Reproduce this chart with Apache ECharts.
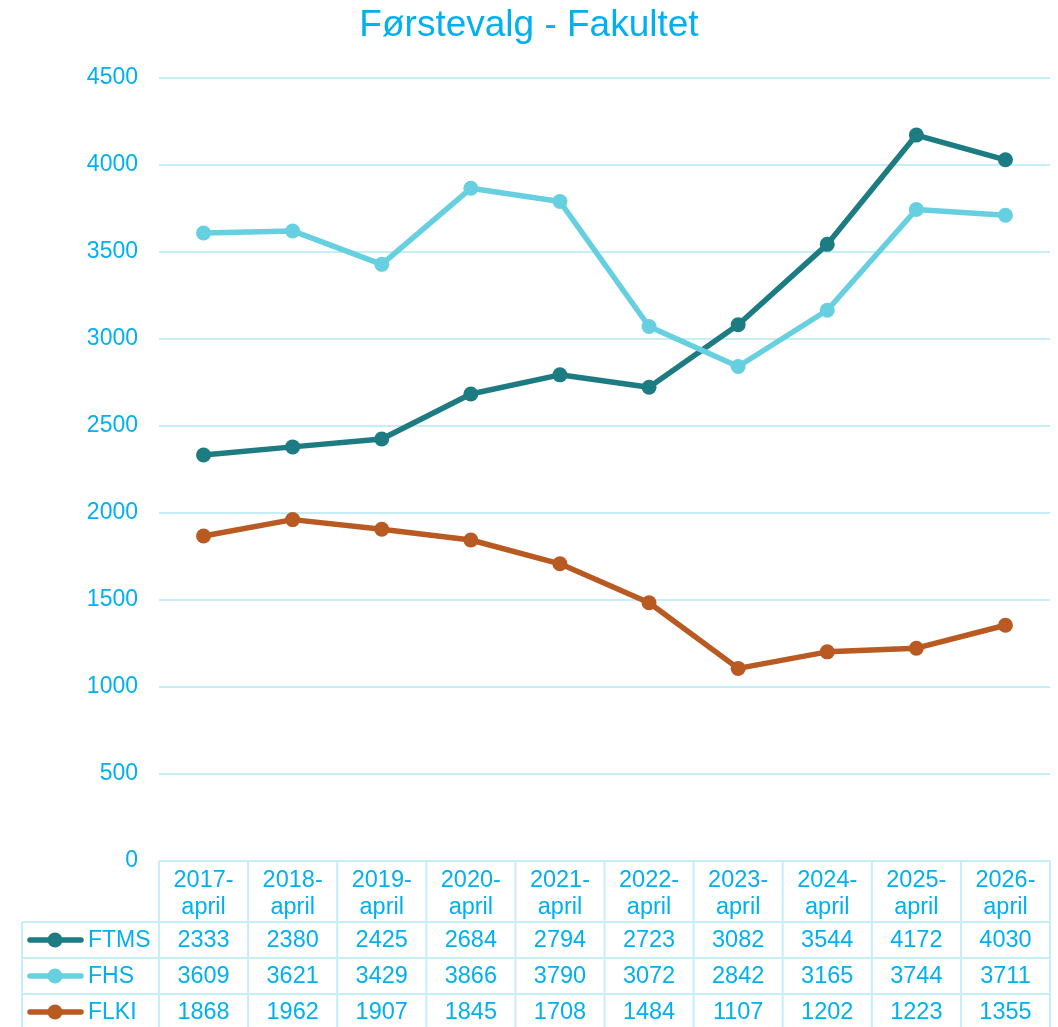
<!DOCTYPE html>
<html>
<head>
<meta charset="utf-8">
<script src="https://cdn.jsdelivr.net/npm/echarts@6/dist/echarts.min.js"></script>
</head>
<body style="margin:0">
<div id="main" style="width:1058px;height:1027px;"></div>
<script>
var categories = ['2017-april', '2018-april', '2019-april', '2020-april', '2021-april',
  '2022-april', '2023-april', '2024-april', '2025-april', '2026-april'];
var seriesNames = ['FTMS', 'FHS', 'FLKI'];
var ftms = [2333, 2380, 2425, 2684, 2794, 2723, 3082, 3544, 4172, 4030];
var fhs = [3609, 3621, 3429, 3866, 3790, 3072, 2842, 3165, 3744, 3711];
var flki = [1868, 1962, 1907, 1845, 1708, 1484, 1107, 1202, 1223, 1355];
var yTicks = { min: 0, max: 4500, interval: 500 };

var colors = ['#1d7b82', '#67d0e0', '#b85a22'];
var txt = '#00b0f0';
var gridCol = '#c6eef9';
var font = 'Liberation Sans, Arial, sans-serif';

var chart = echarts.init(document.getElementById('main'));
var allData = [ftms, fhs, flki];

var option = {
  animation: false,
  title: {
    text: 'Førstevalg - Fakultet',
    left: 'center',
    top: 2,
    textStyle: { color: txt, fontSize: 37, fontWeight: 'normal', fontFamily: font }
  },
  grid: { left: 159, right: 8, top: 78, bottom: 166 },
  xAxis: {
    type: 'category',
    data: categories.map(function (c) { return c.replace('-', '-\n'); }),
    axisLine: { show: false },
    axisTick: { show: false },
    axisLabel: { color: txt, fontSize: 23.5, lineHeight: 27, margin: 6, fontFamily: font }
  },
  yAxis: {
    type: 'value',
    min: yTicks.min, max: yTicks.max, interval: yTicks.interval,
    axisLine: { show: false },
    axisTick: { show: false },
    axisLabel: { color: txt, fontSize: 23, margin: 21, fontFamily: font,
      formatter: function (v) { return String(v); } },
    splitLine: { lineStyle: { color: gridCol, width: 2 } }
  },
  series: allData.map(function (d, i) {
    return {
      name: seriesNames[i],
      type: 'line',
      data: d,
      symbol: 'circle',
      symbolSize: 15,
      lineStyle: { color: colors[i], width: 5.5 },
      itemStyle: { color: colors[i] }
    };
  })
};
chart.setOption(option);

// data table under the plot
var c0 = chart.convertToPixel({ xAxisIndex: 0 }, 0);
var c1 = chart.convertToPixel({ xAxisIndex: 0 }, 1);
var band = c1 - c0;
var x0 = c0 - band / 2;
var xEnd = x0 + band * categories.length;
var y0 = chart.convertToPixel({ yAxisIndex: 0 }, 0);
var headH = 61, rowH = 36, tableLeft = 22, yBottom = 1040;
var g = [];
var ls = { stroke: gridCol, lineWidth: 2 };

g.push({ type: 'line', shape: { x1: x0, y1: y0, x2: xEnd, y2: y0 }, style: ls });
for (var k = 0; k <= categories.length; k++) {
  var xx = x0 + band * k;
  g.push({ type: 'line', shape: { x1: xx, y1: y0, x2: xx, y2: yBottom }, style: ls });
}
g.push({ type: 'line', shape: { x1: tableLeft, y1: y0 + headH, x2: tableLeft, y2: yBottom }, style: ls });
for (var r = 0; r < allData.length; r++) {
  var yt = y0 + headH + rowH * r;
  g.push({ type: 'line', shape: { x1: tableLeft, y1: yt, x2: xEnd, y2: yt }, style: ls });
  var yc = yt + rowH / 2;
  // legend key
  g.push({ type: 'line', shape: { x1: 30, y1: yc, x2: 81, y2: yc },
    style: { stroke: colors[r], lineWidth: 5.5, lineCap: 'round' } });
  g.push({ type: 'circle', shape: { cx: 55, cy: yc, r: 7.5 }, style: { fill: colors[r] } });
  g.push({ type: 'text', x: 88, y: yc + 1,
    style: { text: seriesNames[r], fill: txt, font: '23px ' + font, verticalAlign: 'middle', align: 'left' } });
  for (var i = 0; i < categories.length; i++) {
    g.push({ type: 'text', x: x0 + band * (i + 0.5), y: yc + 1,
      style: { text: String(allData[r][i]), fill: txt, font: '23.5px ' + font, verticalAlign: 'middle', align: 'center' } });
  }
}
chart.setOption({ graphic: g });
</script>
</body>
</html>
